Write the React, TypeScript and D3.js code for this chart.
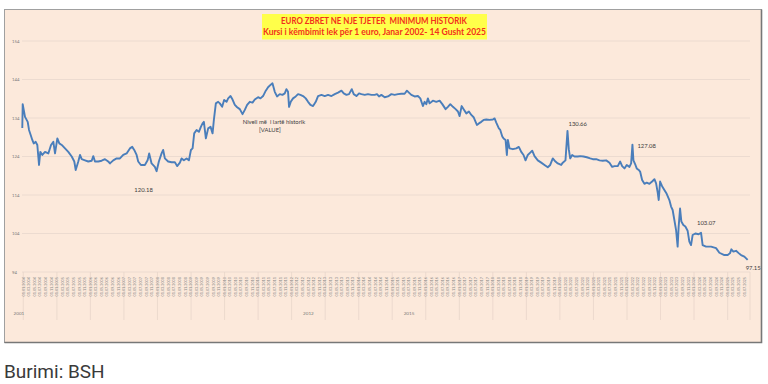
import React from 'react';
import * as d3 from 'd3';

// sample dates as decimal years
const years = [
  2003.970, 2003.982, 2004.051, 2004.131, 2004.170, 2004.220, 2004.268, 2004.310, 2004.369, 2004.417,
  2004.468, 2004.506, 2004.566, 2004.646, 2004.745, 2004.825, 2004.894, 2004.944, 2005.013, 2005.072,
  2005.144, 2005.242, 2005.340, 2005.442, 2005.519, 2005.561, 2005.638, 2005.689, 2005.740, 2005.838,
  2005.936, 2006.038, 2006.085, 2006.136, 2006.234, 2006.335, 2006.434, 2006.532, 2006.583, 2006.681,
  2006.782, 2006.881, 2006.979, 2007.080, 2007.178, 2007.247, 2007.307, 2007.378, 2007.426, 2007.506,
  2007.625, 2007.706, 2007.753, 2007.825, 2007.923, 2007.974, 2008.042, 2008.123, 2008.170, 2008.221,
  2008.319, 2008.421, 2008.519, 2008.587, 2008.668, 2008.719, 2008.787, 2008.867, 2008.936, 2008.996,
  2009.046, 2009.094, 2009.165, 2009.234, 2009.293, 2009.344, 2009.383, 2009.442, 2009.511, 2009.582,
  2009.642, 2009.681, 2009.740, 2009.809, 2009.859, 2009.928, 2009.987, 2010.059, 2010.107, 2010.178,
  2010.238, 2010.306, 2010.375, 2010.455, 2010.536, 2010.604, 2010.673, 2010.753, 2010.834, 2010.902,
  2011.000, 2011.072, 2011.149, 2011.230, 2011.298, 2011.370, 2011.429, 2011.498, 2011.566, 2011.647,
  2011.727, 2011.796, 2011.846, 2011.894, 2011.924, 2011.974, 2012.043, 2012.123, 2012.192, 2012.263,
  2012.341, 2012.421, 2012.490, 2012.561, 2012.639, 2012.719, 2012.787, 2012.889, 2012.987, 2013.085,
  2013.187, 2013.285, 2013.383, 2013.485, 2013.553, 2013.634, 2013.711, 2013.792, 2013.851, 2013.932,
  2014.009, 2014.080, 2014.179, 2014.277, 2014.378, 2014.477, 2014.545, 2014.605, 2014.676, 2014.775,
  2014.873, 2014.974, 2015.072, 2015.171, 2015.272, 2015.370, 2015.439, 2015.498, 2015.570, 2015.668,
  2015.766, 2015.838, 2015.915, 2015.966, 2016.017, 2016.064, 2016.115, 2016.213, 2016.314, 2016.413,
  2016.493, 2016.591, 2016.660, 2016.731, 2016.809, 2016.889, 2016.958, 2017.008, 2017.068, 2017.128,
  2017.208, 2017.286, 2017.357, 2017.426, 2017.485, 2017.524, 2017.584, 2017.655, 2017.724, 2017.804,
  2017.902, 2018.001, 2018.051, 2018.102, 2018.179, 2018.221, 2018.281, 2018.320, 2018.379, 2018.418,
  2018.448, 2018.498, 2018.597, 2018.698, 2018.775, 2018.847, 2018.915, 2018.975, 2019.043, 2019.115,
  2019.174, 2019.243, 2019.341, 2019.443, 2019.541, 2019.639, 2019.711, 2019.788, 2019.868, 2019.937,
  2020.038, 2020.086, 2020.166, 2020.226, 2020.265, 2020.306, 2020.366, 2020.434, 2020.533, 2020.604,
  2020.702, 2020.801, 2020.902, 2020.979, 2021.081, 2021.179, 2021.277, 2021.379, 2021.477, 2021.558,
  2021.626, 2021.724, 2021.796, 2021.855, 2021.924, 2021.992, 2022.073, 2022.123, 2022.162, 2022.192,
  2022.252, 2022.290, 2022.350, 2022.391, 2022.451, 2022.520, 2022.588, 2022.669, 2022.749, 2022.818,
  2022.868, 2022.916, 2022.946, 2022.987, 2023.047, 2023.115, 2023.184, 2023.264, 2023.315, 2023.362,
  2023.413, 2023.464, 2023.511, 2023.541, 2023.583, 2023.622, 2023.681, 2023.741, 2023.809, 2023.860,
  2023.910, 2023.958, 2024.039, 2024.137, 2024.208, 2024.256, 2024.358, 2024.507, 2024.656, 2024.754,
  2024.903, 2025.001, 2025.072, 2025.111, 2025.171, 2025.251, 2025.329, 2025.400, 2025.499, 2025.597,
];

// lek per 1 euro
const rates = [
  131.4, 137.6, 134.3, 133, 130.9, 129.6, 128.3, 127.4, 127.8, 127,
  121.8, 125.2, 124.4, 125.2, 124.8, 127, 127.8, 124.8, 128.7, 127.4,
  127, 126.1, 125.2, 124, 122.7, 120.5, 122.7, 124.4, 123.3, 123,
  122.7, 122.9, 124.1, 122.7, 122.7, 122.9, 123.3, 122.7, 122.2, 123,
  123.5, 123.5, 124.4, 124.8, 126.1, 126.5, 125.7, 124.4, 122.7, 121.8,
  121.8, 123, 124.8, 122.2, 121.3, 120.18, 122.7, 124.8, 125.7, 123.5,
  122.7, 122.5, 122.5, 121.5, 122.4, 123.5, 123, 123.5, 123, 125.7,
  126.1, 130, 130.9, 130.4, 131.7, 132.6, 133, 128.7, 131.3, 131.7,
  130, 133.5, 137.8, 138.2, 137.8, 136.9, 138.7, 138.2, 139.1, 139.7,
  138.8, 137.4, 136.8, 136.3, 135, 136.1, 137.4, 138.2, 138, 138.8,
  139.4, 139.1, 139.7, 141.1, 142, 142.6, 143.0, 140.8, 139.6, 140.2,
  140, 140.4, 141.5, 140.8, 136.9, 138.2, 139.1, 139.6, 140.2, 140,
  139.7, 139.1, 138.2, 137.4, 137.1, 138.2, 139.7, 140, 139.7, 140,
  139.7, 140.2, 140.6, 141.1, 140.4, 140, 140.2, 141.5, 140.2, 139.7,
  140.4, 140.2, 140, 140.2, 140, 140, 140.2, 139.6, 140, 139.4,
  139.6, 140.2, 140, 140.2, 140.3, 140.3, 141.1, 140.6, 140, 139.6,
  139.7, 139.1, 137.1, 138.2, 137.6, 139.1, 137.8, 138.5, 138.2, 138.5,
  137.6, 136.3, 136.9, 137.6, 136.9, 136.3, 135.7, 134.5, 137.1, 136.3,
  135.2, 135.7, 134.8, 134.2, 133, 132.2, 132.6, 133, 133.5, 133.6,
  133.5, 133.6, 133.9, 132.8, 131.3, 130.9, 129.2, 128.7, 128.3, 124.4,
  128.3, 126.1, 125.9, 126.1, 126.5, 125.2, 124.4, 123, 124.4, 125,
  125.5, 124.1, 123, 122.4, 121.8, 121.2, 121.8, 123.5, 122.7, 122.2,
  121.8, 122.4, 123, 130.66, 125.9, 123.5, 124.4, 124, 124, 124.1,
  124, 123.8, 123.5, 123.3, 123.3, 123, 122.9, 123, 122.4, 121.3,
  121.5, 121.5, 122.7, 121.5, 120.9, 121.8, 121.3, 122.2, 127.08, 123,
  121.8, 120.9, 120.5, 120.1, 117.9, 116.9, 117.2, 116.9, 117.5, 118.1,
  117, 114.6, 112.7, 117.5, 116.3, 115.3, 114.3, 112.7, 111, 110.1,
  107.5, 104.9, 100.6, 105.8, 110.5, 107.1, 106.2, 105.8, 104.7, 101.9,
  101, 103.6, 104, 103.8, 104.2, 101, 100.6, 100.6, 100.2, 99,
  98.4, 98.4, 98.9, 99.9, 99.3, 99.5, 98.9, 98.4, 98, 97.15,
];

const yTicks = [94, 104, 114, 124, 134, 144, 154];

const yearGroupLabels = ['2001', '2012', '2015'];
const yearGroupAt = [2003.87, 2012.5, 2015.5];

const noteTexts = ['120.18', '130.66', '127.08', '103.07', '97.15'];
const noteYears = [2007.974, 2020.226, 2022.162, 2024.208, 2025.597];
const noteValues = [120.18, 130.66, 127.08, 103.07, 97.15];
// label offsets from the point
const noteDx = [-13, 1, 5, -4, -2];
const noteDy = [21, -4.5, 3, -12, 10];
const noteAnchor = ['middle', 'start', 'start', 'start', 'start'];

const peakLines = ['Niveli më  i lartë historik', '[VALUE]'];
const peakYear = 2011.429;
const peakValue = 143.0;

const titleLines = [
  'EURO ZBRET NE NJE TJETER  MINIMUM HISTORIK',
  'Kursi i këmbimit lek për 1 euro, Janar 2002- 14 Gusht 2025',
];

const toDate = (yr: number) => {
  const y = Math.floor(yr);
  const a = new Date(y, 0, 1).getTime();
  const b = new Date(y + 1, 0, 1).getTime();
  return new Date(a + (yr - y) * (b - a));
};

const FONT = 'Lato, "Open Sans", sans-serif';

export default function App() {
  const start = new Date(2004, 0, 1);
  const end = new Date(2025, 7, 14);
  const x = d3.scaleTime().domain([start, end]).range([23.3, 748.3]);
  const y = d3.scaleLinear().domain([94, 154]).range([272, 41]);

  const line = d3.line<number>()
    .x((_, i) => x(toDate(years[i])))
    .y(d => y(d));

  const monthTicks = d3.timeMonth.every(2)!.range(start, end);
  const fmt = d3.timeFormat('%d.%m.%Y');
  const yearLines = d3.timeYear.range(start, new Date(2025, 1, 1));

  const gridL = 22, gridR = 750;

  return (
    <div style={{ position: 'absolute', left: 0, top: 0 }}>
      <svg width={768} height={384} style={{ display: 'block', background: '#fff' }}>
        {/* chart frame */}
        <rect x={4.5} y={9.5} width={757} height={333} fill="#fce9db" stroke="#a0a0a0" strokeWidth={1} />
        <path d="M761.5,9.5 V342.5 H4.5" fill="none" stroke="#777" strokeWidth={1.6} />

        {/* gridlines + y labels */}
        {yTicks.map(t => (
          <g key={t}>
            <line x1={gridL} x2={gridR} y1={y(t)} y2={y(t)} stroke="#ecdbd0" strokeWidth={1} />
            <text x={12} y={y(t) + 1.5} fontSize={4.3} fill="#7a7a7a" fontFamily={FONT}>{t}</text>
          </g>
        ))}

        {/* year separators */}
        {yearLines.map(d => (
          <line key={+d} x1={x(d)} x2={x(d)} y1={272} y2={320} stroke="#e8d6ca" strokeWidth={0.8} />
        ))}
        <line x1={gridR} x2={gridR} y1={272} y2={320} stroke="#e8d6ca" strokeWidth={0.8} />

        {/* rotated date labels */}
        {monthTicks.map(d => (
          <text key={+d} transform={`translate(${x(d) + 1.3},277) rotate(-90)`} textAnchor="end"
            fontSize={3.8} fill="#8a8a8a" fontFamily={FONT}>{fmt(d)}</text>
        ))}

        {yearGroupLabels.map((l, i) => (
          <text key={l} x={x(toDate(yearGroupAt[i]))} y={314.5} textAnchor="middle" fontSize={4.6}
            fill="#7a7a7a" fontFamily={FONT}>{l}</text>
        ))}

        {/* series */}
        <path d={line(rates) || ''} fill="none" stroke="#4a7ebb" strokeWidth={1.9} strokeLinejoin="round" />

        {/* annotations */}
        {noteTexts.map((t, i) => (
          <text key={t} x={x(toDate(noteYears[i])) + noteDx[i]} y={y(noteValues[i]) + noteDy[i]}
            textAnchor={noteAnchor[i] as any} fontSize={5.9} fill="#404040" fontFamily={FONT}>{t}</text>
        ))}
        {peakLines.map((t, i) => (
          <text key={t} x={x(toDate(peakYear)) + 1.5 - i * 4} y={y(peakValue) + 40.5 + i * 8.5}
            textAnchor="middle" fontSize={5.9} fill="#404040" fontFamily={FONT}
            style={{ whiteSpace: 'pre' }}>{t}</text>
        ))}

        {/* title box */}
        <rect x={262} y={14} width={225} height={25.5} fill="#ffff4a" />
        <text x={374} y={24.2} textAnchor="middle" fontSize={8.6} fontWeight="bold" fill="#f2301b"
          fontFamily={FONT} textLength={186} lengthAdjust="spacingAndGlyphs" style={{ whiteSpace: 'pre' }}>
          {titleLines[0]}
        </text>
        <text x={374.5} y={35} textAnchor="middle" fontSize={8.6} fontWeight="bold" fill="#f2301b"
          fontFamily={FONT} textLength={223} lengthAdjust="spacingAndGlyphs">
          {titleLines[1]}
        </text>

        {/* source */}
        <text x={4} y={378} fontSize={19} fill="#3a3a3a" fontFamily="Roboto, sans-serif">Burimi: BSH</text>
      </svg>
    </div>
  );
}
